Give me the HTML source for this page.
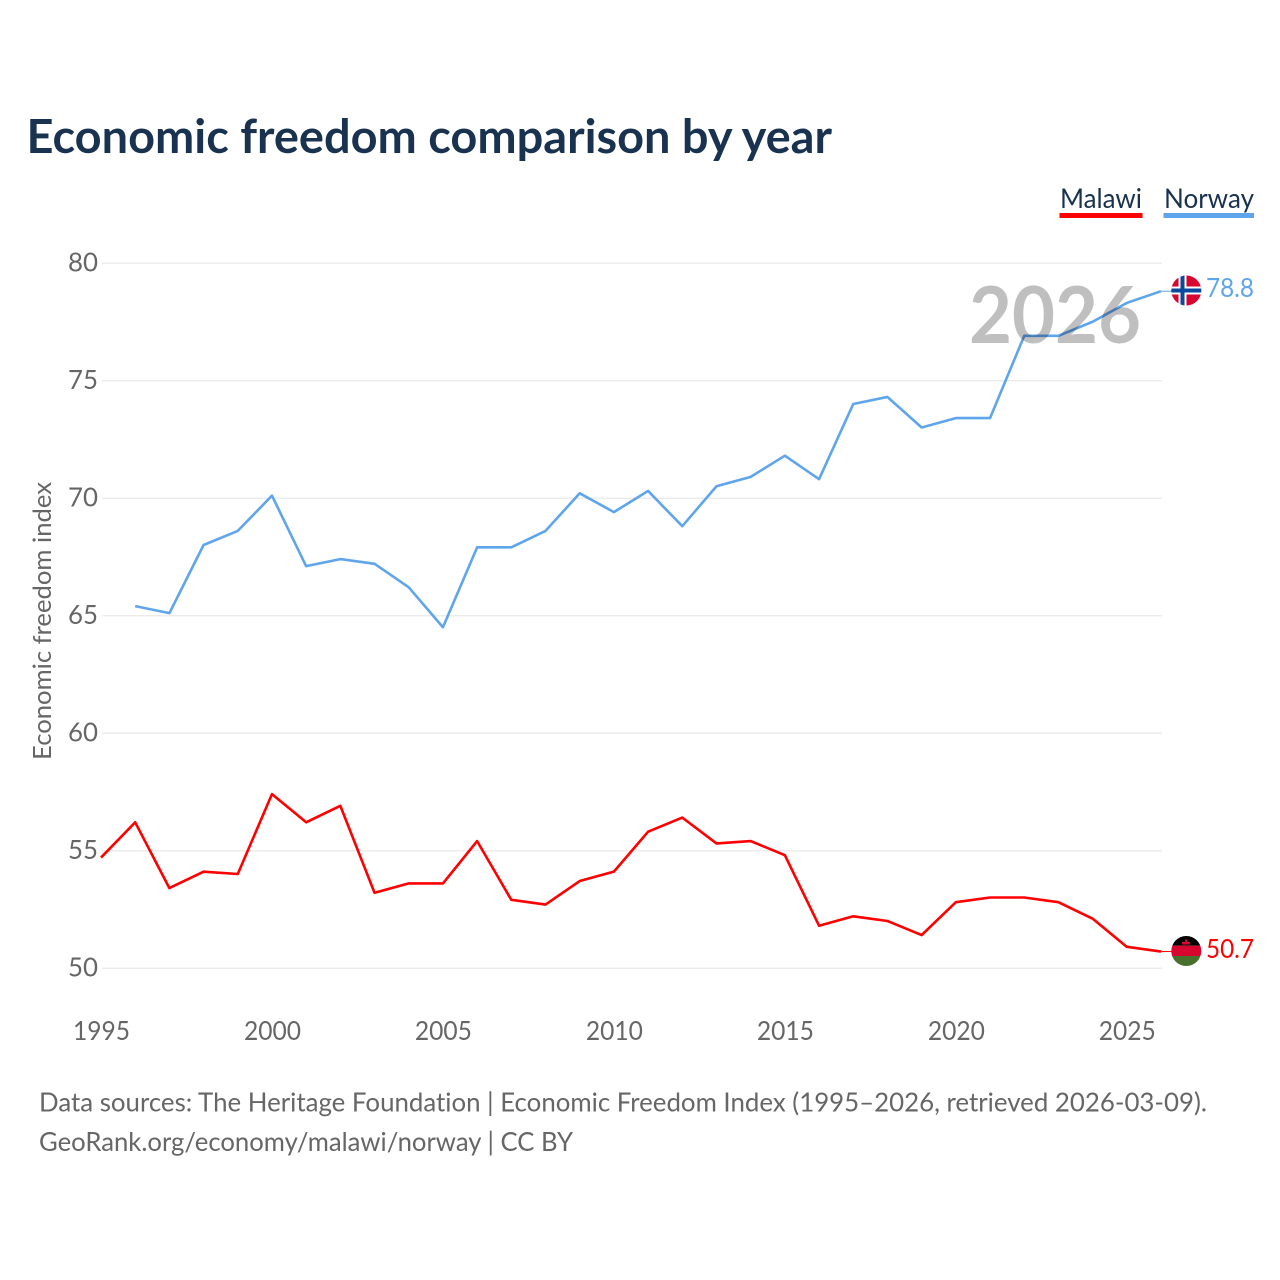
<!DOCTYPE html>
<html lang="en">
<head>
<meta charset="utf-8">
<title>Economic freedom comparison by year</title>
<style>
html,body{margin:0;padding:0;background:#fff;}
svg{display:block;}
text{font-family:"Lato","Carlito","Liberation Sans",sans-serif;font-variant-ligatures:none;}
</style>
</head>
<body>
<svg id="chart" xmlns="http://www.w3.org/2000/svg" width="1280" height="1280" viewBox="0 0 1280 1280">
  <rect width="1280" height="1280" fill="#fff"/>
  <defs>
    <clipPath id="flag-clip-no"><circle cx="1186.3" cy="290.5" r="15"/></clipPath>
    <clipPath id="flag-clip-mw"><circle cx="1186.3" cy="951" r="15"/></clipPath>
  </defs>
  <text x="26.5" y="153" font-size="47" font-weight="700" fill="#18324f" textLength="805.5" lengthAdjust="spacingAndGlyphs">Economic freedom comparison by year</text>

  <g id="grid"></g>
  <g id="y-ticks"></g>
  <g id="x-ticks"></g>
  <text transform="translate(51 760) rotate(-90)" font-size="25.5" fill="#666" textLength="278" lengthAdjust="spacingAndGlyphs">Economic freedom index</text>

  <g id="series"></g>

  <text x="969" y="343" font-size="79" font-weight="700" fill="#000" fill-opacity="0.25" textLength="172" lengthAdjust="spacingAndGlyphs">2026</text>

  <g>
    <text x="1060" y="208" font-size="27.5" fill="#18324f" textLength="82" lengthAdjust="spacingAndGlyphs">Malawi</text>
    <rect x="1059.5" y="213" width="83" height="5" fill="#ff0000"/>
  </g>
  <g>
    <text x="1164" y="208" font-size="27.5" fill="#18324f" textLength="90" lengthAdjust="spacingAndGlyphs">Norway</text>
    <rect x="1163.5" y="213" width="90.5" height="5" fill="#5fa5ec"/>
  </g>

  <g id="flag-norway" clip-path="url(#flag-clip-no)">
    <rect x="1171" y="275" width="31" height="31" fill="#d8062e"/>
    <rect x="1171" y="286.5" width="31" height="8" fill="#fff"/>
    <rect x="1178.5" y="275" width="8" height="31" fill="#fff"/>
    <rect x="1171" y="288.5" width="31" height="4" fill="#0a4a9e"/>
    <rect x="1180.5" y="275" width="4" height="31" fill="#0a4a9e"/>
  </g>
  <g id="flag-malawi" clip-path="url(#flag-clip-mw)">
    <rect x="1171" y="935" width="31" height="10.7" fill="#000"/>
    <rect x="1171" y="945.7" width="31" height="10.3" fill="#d8062e"/>
    <rect x="1171" y="956" width="31" height="11" fill="#48702c"/>
    <rect x="1182" y="942" width="8" height="2.5" fill="#d8062e"/>
    <rect x="1185" y="939.5" width="2" height="3" fill="#d8062e"/>
  </g>

  <text id="value-norway" x="1206" y="297" font-size="26.5" fill="#5fa5ec" textLength="48" lengthAdjust="spacingAndGlyphs"></text>
  <text id="value-malawi" x="1206" y="958" font-size="26.5" fill="#ff0000" textLength="48" lengthAdjust="spacingAndGlyphs"></text>

  <text x="39" y="1111.5" font-size="26.5" fill="#666" textLength="1168" lengthAdjust="spacingAndGlyphs">Data sources: The Heritage Foundation | Economic Freedom Index (1995–2026, retrieved 2026-03-09).</text>
  <text x="39" y="1151" font-size="26.5" fill="#666" textLength="534" lengthAdjust="spacingAndGlyphs">GeoRank.org/economy/malawi/norway | CC BY</text>
</svg>
<script>
const years = [1995,1996,1997,1998,1999,2000,2001,2002,2003,2004,2005,2006,2007,2008,2009,2010,2011,2012,2013,2014,2015,2016,2017,2018,2019,2020,2021,2022,2023,2024,2025,2026];
const malawi = [54.7,56.2,53.4,54.1,54.0,57.4,56.2,56.9,53.2,53.6,53.6,55.4,52.9,52.7,53.7,54.1,55.8,56.4,55.3,55.4,54.8,51.8,52.2,52.0,51.4,52.8,53.0,53.0,52.8,52.1,50.9,50.7];
const norway = [null,65.4,65.1,68.0,68.6,70.1,67.1,67.4,67.2,66.2,64.5,67.9,67.9,68.6,70.2,69.4,70.3,68.8,70.5,70.9,71.8,70.8,74.0,74.3,73.0,73.4,73.4,76.9,76.9,77.5,78.3,78.8];
const yTicks = [50,55,60,65,70,75,80];
const xTicks = [1995,2000,2005,2010,2015,2020,2025];

const NS = 'http://www.w3.org/2000/svg';
function xScale(year){ return 101 + (year - 1995) * (1161 - 101) / (2026 - 1995); }
function yScale(value){ return 968 - (value - 50) * (968 - 263) / (80 - 50); }

const grid = document.getElementById('grid');
const yTickGroup = document.getElementById('y-ticks');
const xTickGroup = document.getElementById('x-ticks');
const seriesGroup = document.getElementById('series');

yTicks.forEach(function(t){
  const line = document.createElementNS(NS,'line');
  
  
  line.setAttribute('x1', 102);
  line.setAttribute('x2', 1162);
  line.setAttribute('y1', yScale(t) + 0.3);
  line.setAttribute('y2', yScale(t) + 0.3);
  line.setAttribute('stroke', '#ececec');
  line.setAttribute('stroke-width', '1.5');
  grid.appendChild(line);

  const label = document.createElementNS(NS,'text');
  
  
  label.setAttribute('x', 98);
  label.setAttribute('y', yScale(t) + 8.5);
  label.setAttribute('text-anchor', 'end');
  label.setAttribute('font-size', '26.5');
  label.setAttribute('fill', '#666');
  label.setAttribute('textLength', '30');
  label.setAttribute('lengthAdjust', 'spacingAndGlyphs');
  label.textContent = t;
  yTickGroup.appendChild(label);
});

xTicks.forEach(function(t){
  const label = document.createElementNS(NS,'text');
  
  
  label.setAttribute('x', xScale(t) + 0.5);
  label.setAttribute('y', 1040);
  label.setAttribute('text-anchor', 'middle');
  label.setAttribute('font-size', '26.5');
  label.setAttribute('fill', '#666');
  label.setAttribute('textLength', '57');
  label.setAttribute('lengthAdjust', 'spacingAndGlyphs');
  label.textContent = t;
  xTickGroup.appendChild(label);
});

function pathFor(values){
  let d = '';
  values.forEach(function(v,i){
    if (v === null) return;
    d += (d ? 'L' : 'M') + xScale(years[i]).toFixed(2) + ' ' + yScale(v).toFixed(2);
  });
  return d;
}

const malawiPath = document.createElementNS(NS,'path');


malawiPath.setAttribute('d', pathFor(malawi));
malawiPath.setAttribute('fill', 'none');
malawiPath.setAttribute('stroke', '#ff0000');
malawiPath.setAttribute('stroke-width', '2.6');
malawiPath.setAttribute('stroke-linejoin', 'round');
seriesGroup.appendChild(malawiPath);

const norwayPath = document.createElementNS(NS,'path');


norwayPath.setAttribute('d', pathFor(norway));
norwayPath.setAttribute('fill', 'none');
norwayPath.setAttribute('stroke', '#5fa5ec');
norwayPath.setAttribute('stroke-width', '2.6');
norwayPath.setAttribute('stroke-linejoin', 'round');
seriesGroup.appendChild(norwayPath);

const lastIndex = years.length - 1;

const malawiLead = document.createElementNS(NS,'line');


malawiLead.setAttribute('x1', xScale(years[lastIndex]));
malawiLead.setAttribute('x2', xScale(years[lastIndex]) + 11);
malawiLead.setAttribute('y1', yScale(malawi[lastIndex]));
malawiLead.setAttribute('y2', yScale(malawi[lastIndex]));
malawiLead.setAttribute('stroke', '#ff0000');
malawiLead.setAttribute('stroke-width', '1');
seriesGroup.appendChild(malawiLead);

const norwayLead = document.createElementNS(NS,'line');


norwayLead.setAttribute('x1', xScale(years[lastIndex]));
norwayLead.setAttribute('x2', xScale(years[lastIndex]) + 11);
norwayLead.setAttribute('y1', yScale(norway[lastIndex]));
norwayLead.setAttribute('y2', yScale(norway[lastIndex]));
norwayLead.setAttribute('stroke', '#5fa5ec');
norwayLead.setAttribute('stroke-width', '1');
seriesGroup.appendChild(norwayLead);

document.getElementById('value-norway').textContent = norway[lastIndex].toFixed(1);
document.getElementById('value-malawi').textContent = malawi[lastIndex].toFixed(1);
</script>
</body>
</html>
